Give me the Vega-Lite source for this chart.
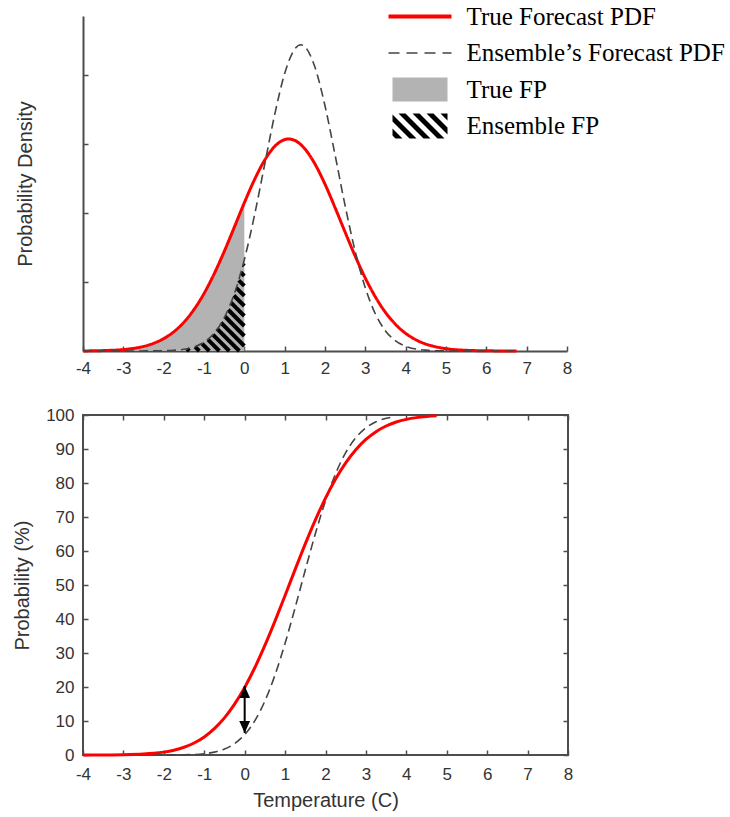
{
  "$schema": "https://vega.github.io/schema/vega-lite/v6.json",
  "background": "white",
  "padding": {"left": 11, "top": 4, "right": 0, "bottom": 5},
  "config": {
    "font": "Liberation Sans",
    "axis": {
      "domainColor": "#4d4d4d", "domainWidth": 2,
      "tickColor": "#4d4d4d", "tickWidth": 1.5,
      "labelColor": "#333333", "labelFontSize": 17, "labelFont": "Liberation Sans",
      "titleColor": "#333333", "titleFontSize": 20, "titleFont": "Liberation Sans", "titleFontWeight": "normal",
      "grid": false
    }
  },
  "datasets": {
    "pdf": [
      {"series": "True Forecast PDF", "x": -4, "density": 0.0001},
      {"series": "True Forecast PDF", "x": -3.5, "density": 0.0006},
      {"series": "True Forecast PDF", "x": -3, "density": 0.0021},
      {"series": "True Forecast PDF", "x": -2.75, "density": 0.0038},
      {"series": "True Forecast PDF", "x": -2.5, "density": 0.0066},
      {"series": "True Forecast PDF", "x": -2.25, "density": 0.0111},
      {"series": "True Forecast PDF", "x": -2, "density": 0.0179},
      {"series": "True Forecast PDF", "x": -1.75, "density": 0.0278},
      {"series": "True Forecast PDF", "x": -1.5, "density": 0.0415},
      {"series": "True Forecast PDF", "x": -1.25, "density": 0.0599},
      {"series": "True Forecast PDF", "x": -1, "density": 0.0832},
      {"series": "True Forecast PDF", "x": -0.75, "density": 0.1115},
      {"series": "True Forecast PDF", "x": -0.5, "density": 0.1439},
      {"series": "True Forecast PDF", "x": -0.25, "density": 0.179},
      {"series": "True Forecast PDF", "x": 0, "density": 0.2146},
      {"series": "True Forecast PDF", "x": 0.25, "density": 0.2478},
      {"series": "True Forecast PDF", "x": 0.5, "density": 0.2759},
      {"series": "True Forecast PDF", "x": 0.75, "density": 0.296},
      {"series": "True Forecast PDF", "x": 1, "density": 0.306},
      {"series": "True Forecast PDF", "x": 1.1, "density": 0.3069},
      {"series": "True Forecast PDF", "x": 1.25, "density": 0.3049},
      {"series": "True Forecast PDF", "x": 1.5, "density": 0.2927},
      {"series": "True Forecast PDF", "x": 1.75, "density": 0.2708},
      {"series": "True Forecast PDF", "x": 2, "density": 0.2415},
      {"series": "True Forecast PDF", "x": 2.25, "density": 0.2075},
      {"series": "True Forecast PDF", "x": 2.5, "density": 0.1719},
      {"series": "True Forecast PDF", "x": 2.75, "density": 0.1372},
      {"series": "True Forecast PDF", "x": 3, "density": 0.1055},
      {"series": "True Forecast PDF", "x": 3.25, "density": 0.0782},
      {"series": "True Forecast PDF", "x": 3.5, "density": 0.0558},
      {"series": "True Forecast PDF", "x": 3.75, "density": 0.0384},
      {"series": "True Forecast PDF", "x": 4, "density": 0.0255},
      {"series": "True Forecast PDF", "x": 4.25, "density": 0.0163},
      {"series": "True Forecast PDF", "x": 4.5, "density": 0.01},
      {"series": "True Forecast PDF", "x": 4.75, "density": 0.006},
      {"series": "True Forecast PDF", "x": 5, "density": 0.0034},
      {"series": "True Forecast PDF", "x": 5.5, "density": 0.001},
      {"series": "True Forecast PDF", "x": 6, "density": 0.0003},
      {"series": "True Forecast PDF", "x": 6.75, "density": 0.0},
      {"series": "Ensemble’s Forecast PDF", "x": -4, "density": 0.0},
      {"series": "Ensemble’s Forecast PDF", "x": -3, "density": 0.0},
      {"series": "Ensemble’s Forecast PDF", "x": -2, "density": 0.0004},
      {"series": "Ensemble’s Forecast PDF", "x": -1.75, "density": 0.001},
      {"series": "Ensemble’s Forecast PDF", "x": -1.5, "density": 0.0025},
      {"series": "Ensemble’s Forecast PDF", "x": -1.25, "density": 0.0058},
      {"series": "Ensemble’s Forecast PDF", "x": -1, "density": 0.0127},
      {"series": "Ensemble’s Forecast PDF", "x": -0.75, "density": 0.0256},
      {"series": "Ensemble’s Forecast PDF", "x": -0.5, "density": 0.0478},
      {"series": "Ensemble’s Forecast PDF", "x": -0.25, "density": 0.0825},
      {"series": "Ensemble’s Forecast PDF", "x": 0, "density": 0.1322},
      {"series": "Ensemble’s Forecast PDF", "x": 0.25, "density": 0.1959},
      {"series": "Ensemble’s Forecast PDF", "x": 0.5, "density": 0.2689},
      {"series": "Ensemble’s Forecast PDF", "x": 0.75, "density": 0.3415},
      {"series": "Ensemble’s Forecast PDF", "x": 1, "density": 0.4016},
      {"series": "Ensemble’s Forecast PDF", "x": 1.25, "density": 0.4372},
      {"series": "Ensemble’s Forecast PDF", "x": 1.4, "density": 0.4433},
      {"series": "Ensemble’s Forecast PDF", "x": 1.5, "density": 0.4406},
      {"series": "Ensemble’s Forecast PDF", "x": 1.75, "density": 0.411},
      {"series": "Ensemble’s Forecast PDF", "x": 2, "density": 0.355},
      {"series": "Ensemble’s Forecast PDF", "x": 2.25, "density": 0.2838},
      {"series": "Ensemble’s Forecast PDF", "x": 2.5, "density": 0.21},
      {"series": "Ensemble’s Forecast PDF", "x": 2.75, "density": 0.1439},
      {"series": "Ensemble’s Forecast PDF", "x": 3, "density": 0.0913},
      {"series": "Ensemble’s Forecast PDF", "x": 3.25, "density": 0.0536},
      {"series": "Ensemble’s Forecast PDF", "x": 3.5, "density": 0.0291},
      {"series": "Ensemble’s Forecast PDF", "x": 3.75, "density": 0.0147},
      {"series": "Ensemble’s Forecast PDF", "x": 4, "density": 0.0068},
      {"series": "Ensemble’s Forecast PDF", "x": 4.5, "density": 0.0012},
      {"series": "Ensemble’s Forecast PDF", "x": 5, "density": 0.0001},
      {"series": "Ensemble’s Forecast PDF", "x": 6, "density": 0.0},
      {"series": "Ensemble’s Forecast PDF", "x": 6.75, "density": 0.0}
    ],
    "hatch": [
      {"x": -0.031, "y": 0.1249, "x2": 0, "y2": 0.1232},
      {"x": -0.085, "y": 0.1136, "x2": 0, "y2": 0.1087},
      {"x": -0.14, "y": 0.1023, "x2": 0, "y2": 0.0942},
      {"x": -0.2, "y": 0.0913, "x2": 0, "y2": 0.0797},
      {"x": -0.26, "y": 0.0804, "x2": 0, "y2": 0.0652},
      {"x": -0.33, "y": 0.07, "x2": 0, "y2": 0.0507},
      {"x": -0.4, "y": 0.0597, "x2": 0, "y2": 0.0362},
      {"x": -0.48, "y": 0.0499, "x2": 0, "y2": 0.0217},
      {"x": -0.58, "y": 0.0412, "x2": 0, "y2": 0.0072},
      {"x": -0.68, "y": 0.0325, "x2": -0.124, "y2": 0},
      {"x": -0.78, "y": 0.0238, "x2": -0.372, "y2": 0},
      {"x": -0.9, "y": 0.0165, "x2": -0.62, "y2": 0},
      {"x": -1.05, "y": 0.0107, "x2": -0.868, "y2": 0},
      {"x": -1.22, "y": 0.0061, "x2": -1.116, "y2": 0},
      {"x": -1.42, "y": 0.0032, "x2": -1.364, "y2": 0}
    ],
    "cdf": [
      {"curve": "True", "x": -4, "prob": 0.0},
      {"curve": "True", "x": -3.5, "prob": 0.02},
      {"curve": "True", "x": -3, "prob": 0.08},
      {"curve": "True", "x": -2.5, "prob": 0.28},
      {"curve": "True", "x": -2.25, "prob": 0.5},
      {"curve": "True", "x": -2, "prob": 0.85},
      {"curve": "True", "x": -1.75, "prob": 1.42},
      {"curve": "True", "x": -1.5, "prob": 2.28},
      {"curve": "True", "x": -1.25, "prob": 3.53},
      {"curve": "True", "x": -1, "prob": 5.31},
      {"curve": "True", "x": -0.75, "prob": 7.74},
      {"curve": "True", "x": -0.5, "prob": 10.92},
      {"curve": "True", "x": -0.25, "prob": 14.96},
      {"curve": "True", "x": 0, "prob": 19.87},
      {"curve": "True", "x": 0.25, "prob": 25.66},
      {"curve": "True", "x": 0.5, "prob": 32.22},
      {"curve": "True", "x": 0.75, "prob": 39.39},
      {"curve": "True", "x": 1, "prob": 46.93},
      {"curve": "True", "x": 1.25, "prob": 54.59},
      {"curve": "True", "x": 1.5, "prob": 62.08},
      {"curve": "True", "x": 1.75, "prob": 69.15},
      {"curve": "True", "x": 2, "prob": 75.56},
      {"curve": "True", "x": 2.25, "prob": 81.18},
      {"curve": "True", "x": 2.5, "prob": 85.92},
      {"curve": "True", "x": 2.75, "prob": 89.78},
      {"curve": "True", "x": 3, "prob": 92.81},
      {"curve": "True", "x": 3.25, "prob": 95.09},
      {"curve": "True", "x": 3.5, "prob": 96.76},
      {"curve": "True", "x": 3.75, "prob": 97.93},
      {"curve": "True", "x": 4, "prob": 98.72},
      {"curve": "True", "x": 4.25, "prob": 99.23},
      {"curve": "True", "x": 4.5, "prob": 99.55},
      {"curve": "True", "x": 4.75, "prob": 99.75},
      {"curve": "Ensemble", "x": -4, "prob": 0.0},
      {"curve": "Ensemble", "x": -2, "prob": 0.01},
      {"curve": "Ensemble", "x": -1.5, "prob": 0.06},
      {"curve": "Ensemble", "x": -1, "prob": 0.38},
      {"curve": "Ensemble", "x": -0.75, "prob": 0.84},
      {"curve": "Ensemble", "x": -0.5, "prob": 1.74},
      {"curve": "Ensemble", "x": -0.25, "prob": 3.34},
      {"curve": "Ensemble", "x": 0, "prob": 5.99},
      {"curve": "Ensemble", "x": 0.25, "prob": 10.06},
      {"curve": "Ensemble", "x": 0.5, "prob": 15.87},
      {"curve": "Ensemble", "x": 0.75, "prob": 23.51},
      {"curve": "Ensemble", "x": 1, "prob": 32.84},
      {"curve": "Ensemble", "x": 1.25, "prob": 43.38},
      {"curve": "Ensemble", "x": 1.5, "prob": 54.42},
      {"curve": "Ensemble", "x": 1.75, "prob": 65.13},
      {"curve": "Ensemble", "x": 2, "prob": 74.75},
      {"curve": "Ensemble", "x": 2.25, "prob": 82.75},
      {"curve": "Ensemble", "x": 2.5, "prob": 88.92},
      {"curve": "Ensemble", "x": 2.75, "prob": 93.32},
      {"curve": "Ensemble", "x": 3, "prob": 96.23},
      {"curve": "Ensemble", "x": 3.25, "prob": 98.01},
      {"curve": "Ensemble", "x": 3.5, "prob": 99.02},
      {"curve": "Ensemble", "x": 3.65, "prob": 99.38}
    ],
    "arrow": [
      {"x": 0, "low": 6.5, "high": 20.3}
    ]
  },
  "spacing": 29,
  "vconcat": [
    {
      "width": 484,
      "height": 335,
      "view": {"stroke": null},
      "layer": [
        {
          "data": {"name": "pdf"},
          "transform": [{"filter": "datum.series === 'True Forecast PDF' && datum.x <= 0"}],
          "mark": {"type": "area", "color": "#b3b3b3", "interpolate": "monotone", "opacity": 1},
          "encoding": {
            "x": {"field": "x", "type": "quantitative", "scale": {"domain": [-4, 8], "nice": false, "zero": false},
                  "axis": {"values": [-4, -3, -2, -1, 0, 1, 2, 3, 4, 5, 6, 7, 8], "tickSize": -5, "labelPadding": 14, "title": null, "labelFlush": false, "labelOverlap": false, "labelExpr": "'' + datum.value"}},
            "y": {"field": "density", "type": "quantitative", "scale": {"domain": [0, 0.485], "nice": false},
                  "axis": {"values": [0.1, 0.2, 0.3, 0.4], "labels": false, "tickSize": -5, "title": "Probability Density", "titlePadding": 47}}
          }
        },
        {
          "data": {"name": "hatch"},
          "mark": {"type": "rule", "color": "#000000", "strokeWidth": 4, "strokeCap": "butt"},
          "encoding": {
            "x": {"field": "x", "type": "quantitative", "scale": {"domain": [-4, 8], "nice": false, "zero": false},
                  "axis": {"values": [-4, -3, -2, -1, 0, 1, 2, 3, 4, 5, 6, 7, 8], "tickSize": -5, "labelPadding": 14, "title": null, "labelFlush": false, "labelOverlap": false, "labelExpr": "'' + datum.value"}},
            "y": {"field": "y", "type": "quantitative", "scale": {"domain": [0, 0.485], "nice": false},
                  "axis": {"values": [0.1, 0.2, 0.3, 0.4], "labels": false, "tickSize": -5, "title": "Probability Density", "titlePadding": 47}},
            "x2": {"field": "x2"},
            "y2": {"field": "y2"}
          }
        },
        {
          "data": {"name": "pdf"},
          "mark": {"type": "line", "interpolate": "monotone"},
          "encoding": {
            "x": {"field": "x", "type": "quantitative", "scale": {"domain": [-4, 8], "nice": false, "zero": false},
                  "axis": {"values": [-4, -3, -2, -1, 0, 1, 2, 3, 4, 5, 6, 7, 8], "tickSize": -5, "labelPadding": 14, "title": null, "labelFlush": false, "labelOverlap": false, "labelExpr": "'' + datum.value"}},
            "y": {"field": "density", "type": "quantitative", "scale": {"domain": [0, 0.485], "nice": false},
                  "axis": {"values": [0.1, 0.2, 0.3, 0.4], "labels": false, "tickSize": -5, "title": "Probability Density", "titlePadding": 47}},
            "color": {
              "field": "series", "type": "nominal",
              "scale": {"domain": ["True Forecast PDF", "Ensemble’s Forecast PDF", "True FP", "Ensemble FP"], "range": ["#ff0000", "#444444", "#b3b3b3", "#000000"]},
              "legend": {
                "orient": "none", "legendX": 324.5, "legendY": -12, "title": null, "padding": 0,
                "labelFont": "Liberation Serif", "labelFontSize": 25, "labelColor": "#000000", "labelLimit": 500,
                "symbolSize": 400, "labelOffset": 34, "rowPadding": 10.5,
                "encode": {
                  "symbols": {
                    "update": {
                      "shape": {"signal": "datum.value === 'True FP' ? 'M-2.75,-1.2H2.75V1.2H-2.75Z' : datum.value === 'Ensemble FP' ? 'M-2.75,0.95L-2.75,0.25L-1.75,1.25L-2.45,1.25Z M-2.75,-0.45L-2.75,-1.15L-0.35,1.25L-1.05,1.25Z M-2.15,-1.25L-1.45,-1.25L1.05,1.25L0.35,1.25Z M-0.75,-1.25L-0.05,-1.25L2.45,1.25L1.75,1.25Z M0.65,-1.25L1.35,-1.25L2.75,0.15L2.75,0.85Z M2.05,-1.25L2.75,-1.25L2.75,-0.55Z' : 'M-3.15,0H3.15'"},
                      "size": {"value": 400},
                      "fill": {"signal": "datum.value === 'True FP' ? '#b3b3b3' : datum.value === 'Ensemble FP' ? '#000000' : 'transparent'"},
                      "stroke": {"signal": "datum.value === 'True Forecast PDF' ? '#ff3300' : '#000000'"},
                      "strokeDash": {"signal": "datum.value === 'Ensemble’s Forecast PDF' ? [11, 7] : [1, 0]"},
                      "strokeWidth": {"signal": "datum.value === 'True Forecast PDF' ? 4 : datum.value === 'Ensemble’s Forecast PDF' ? 1.5 : 0"},
                      "opacity": {"value": 1}
                    }
                  }
                }
              }
            },
            "strokeDash": {"field": "series", "type": "nominal", "scale": {"domain": ["True Forecast PDF", "Ensemble’s Forecast PDF"], "range": [[1, 0], [9, 5]]}, "legend": null},
            "size": {"field": "series", "type": "nominal", "scale": {"domain": ["True Forecast PDF", "Ensemble’s Forecast PDF"], "range": [3, 1.6]}, "legend": null}
          }
        }
      ]
    },
    {
      "width": 485,
      "height": 340,
      "view": {"stroke": "#4d4d4d", "strokeWidth": 2},
      "resolve": {"axis": {"x": "independent", "y": "independent"}},
      "layer": [
        {
          "data": {"name": "cdf"},
          "transform": [{"filter": "datum.curve === 'Ensemble'"}],
          "mark": {"type": "line", "color": "#444444", "strokeWidth": 1.6, "strokeDash": [9, 5], "interpolate": "monotone"},
          "encoding": {
            "x": {"field": "x", "type": "quantitative", "scale": {"domain": [-4, 8], "nice": false, "zero": false},
                  "axis": {"orient": "top", "values": [-4, -3, -2, -1, 0, 1, 2, 3, 4, 5, 6, 7, 8], "tickSize": -5, "labels": false, "domain": false, "title": null}},
            "y": {"field": "prob", "type": "quantitative", "scale": {"domain": [0, 100], "nice": false},
                  "axis": {"orient": "right", "values": [0, 10, 20, 30, 40, 50, 60, 70, 80, 90, 100], "tickSize": -5, "labels": false, "domain": false, "title": null}}
          }
        },
        {
          "data": {"name": "cdf"},
          "transform": [{"filter": "datum.curve === 'True'"}],
          "mark": {"type": "line", "color": "#ff0000", "strokeWidth": 3, "interpolate": "monotone"},
          "encoding": {
            "x": {"field": "x", "type": "quantitative", "scale": {"domain": [-4, 8], "nice": false, "zero": false},
                  "axis": {"orient": "bottom", "values": [-4, -3, -2, -1, 0, 1, 2, 3, 4, 5, 6, 7, 8], "tickSize": -5, "labelPadding": 16, "domain": false, "title": "Temperature (C)", "titlePadding": 8, "labelFlush": false, "labelOverlap": false, "labelExpr": "'' + datum.value"}},
            "y": {"field": "prob", "type": "quantitative", "scale": {"domain": [0, 100], "nice": false},
                  "axis": {"orient": "left", "values": [0, 10, 20, 30, 40, 50, 60, 70, 80, 90, 100], "tickSize": -5, "labelPadding": 14, "domain": false, "title": "Probability (%)", "titlePadding": 13, "labelFlush": false, "labelOverlap": false}}
          }
        },
        {
          "data": {"name": "arrow"},
          "mark": {"type": "rule", "color": "#000000", "strokeWidth": 2},
          "encoding": {
            "x": {"field": "x", "type": "quantitative", "scale": {"domain": [-4, 8], "nice": false, "zero": false}, "axis": null},
            "y": {"field": "low", "type": "quantitative", "scale": {"domain": [0, 100], "nice": false}, "axis": null},
            "y2": {"field": "high"}
          }
        },
        {
          "data": {"name": "arrow"},
          "mark": {"type": "point", "shape": "M0,0L0.9,2L-0.9,2Z", "size": 144, "filled": true, "color": "#000000", "opacity": 1, "strokeWidth": 0},
          "encoding": {
            "x": {"field": "x", "type": "quantitative", "scale": {"domain": [-4, 8], "nice": false, "zero": false}, "axis": null},
            "y": {"field": "high", "type": "quantitative", "scale": {"domain": [0, 100], "nice": false}, "axis": null}
          }
        },
        {
          "data": {"name": "arrow"},
          "mark": {"type": "point", "shape": "M0,0L0.9,-2L-0.9,-2Z", "size": 144, "filled": true, "color": "#000000", "opacity": 1, "strokeWidth": 0},
          "encoding": {
            "x": {"field": "x", "type": "quantitative", "scale": {"domain": [-4, 8], "nice": false, "zero": false}, "axis": null},
            "y": {"field": "low", "type": "quantitative", "scale": {"domain": [0, 100], "nice": false}, "axis": null}
          }
        }
      ]
    }
  ]
}
